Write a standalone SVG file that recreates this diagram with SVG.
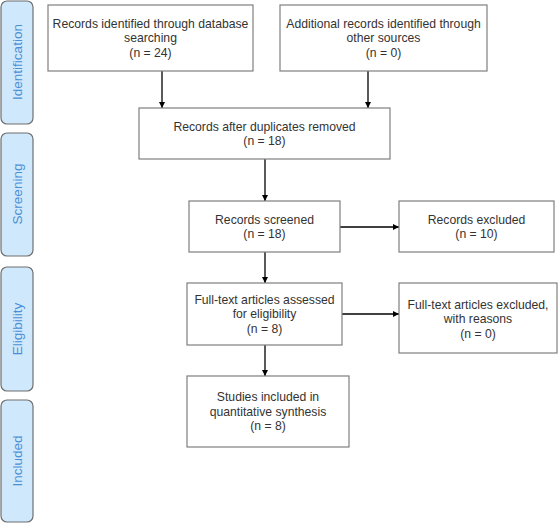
<svg xmlns="http://www.w3.org/2000/svg" width="559" height="524" viewBox="0 0 559 524">
<style>
.box{fill:#fff;stroke:#7f7f7f;stroke-width:1.2}
.t{font-family:"Liberation Sans",Arial,sans-serif;font-size:12.2px;fill:#333;text-anchor:middle}
.side{fill:#cfe8fb;stroke:#6f6f6f;stroke-width:1.2}
.st{font-family:"Liberation Sans",Arial,sans-serif;font-size:13.5px;fill:#4a8fd6;text-anchor:middle;dominant-baseline:central}
.c{stroke:#000;stroke-width:1.3;fill:none;marker-end:url(#ah)}
</style>
<defs>
<marker id="ah" viewBox="0 0 10 10" refX="10" refY="5" markerWidth="6" markerHeight="6" markerUnits="userSpaceOnUse" orient="auto">
<path d="M0,0 L10,5 L0,10 Z" fill="#000"/>
</marker>
</defs>
<rect width="559" height="524" fill="#fff"/>
<g id="side-identification"><rect class="side" x="1" y="1" width="32" height="123" rx="6"/><text class="st" transform="translate(17,62) rotate(-90)">Identification</text></g>
<g id="side-screening"><rect class="side" x="1" y="133" width="32" height="123" rx="6"/><text class="st" transform="translate(17,194) rotate(-90)">Screening</text></g>
<g id="side-eligibility"><rect class="side" x="1" y="267" width="32" height="124" rx="6"/><text class="st" transform="translate(17,329) rotate(-90)">Eligibility</text></g>
<g id="side-included"><rect class="side" x="1" y="400" width="32" height="122" rx="6"/><text class="st" transform="translate(17,461) rotate(-90)">Included</text></g>

<g id="connectors">
<line class="c" x1="162" y1="71" x2="162" y2="108"/>
<line class="c" x1="368" y1="71" x2="368" y2="108"/>
<line class="c" x1="265" y1="159" x2="265" y2="201"/>
<line class="c" x1="340" y1="227" x2="399" y2="227"/>
<line class="c" x1="265" y1="252" x2="265" y2="283"/>
<line class="c" x1="342" y1="314" x2="399" y2="314"/>
<line class="c" x1="265" y1="345" x2="265" y2="376"/>
</g>

<g id="n1"><rect class="box" x="48" y="5" width="205" height="66"/>
<text class="t" x="150.5" y="27.8">Records identified through database</text>
<text class="t" x="150.5" y="42.3">searching</text>
<text class="t" x="150.5" y="56.8">(n = 24)</text></g>
<g id="n2"><rect class="box" x="280" y="5" width="207" height="66"/>
<text class="t" x="383.5" y="27.8">Additional records identified through</text>
<text class="t" x="383.5" y="42.3">other sources</text>
<text class="t" x="383.5" y="56.8">(n = 0)</text></g>
<g id="n3"><rect class="box" x="139" y="108" width="251" height="51"/>
<text class="t" x="264.5" y="130.5">Records after duplicates removed</text>
<text class="t" x="264.5" y="145">(n = 18)</text></g>
<g id="n4"><rect class="box" x="189" y="201" width="151" height="51"/>
<text class="t" x="264.5" y="223.5">Records screened</text>
<text class="t" x="264.5" y="238">(n = 18)</text></g>
<g id="n5"><rect class="box" x="399" y="201" width="155" height="51"/>
<text class="t" x="476.5" y="223.5">Records excluded</text>
<text class="t" x="476.5" y="238">(n = 10)</text></g>
<g id="n6"><rect class="box" x="187" y="283" width="155" height="62"/>
<text class="t" x="264.5" y="303.8">Full-text articles assessed</text>
<text class="t" x="264.5" y="318.3">for eligibility</text>
<text class="t" x="264.5" y="332.8">(n = 8)</text></g>
<g id="n7"><rect class="box" x="399" y="283" width="158" height="70"/>
<text class="t" x="478" y="308.5">Full-text articles excluded,</text>
<text class="t" x="478" y="323">with reasons</text>
<text class="t" x="478" y="337.5">(n = 0)</text></g>
<g id="n8"><rect class="box" x="187" y="376" width="162" height="71"/>
<text class="t" x="268" y="401.3">Studies included in</text>
<text class="t" x="268" y="415.8">quantitative synthesis</text>
<text class="t" x="268" y="430.3">(n = 8)</text></g>
</svg>
